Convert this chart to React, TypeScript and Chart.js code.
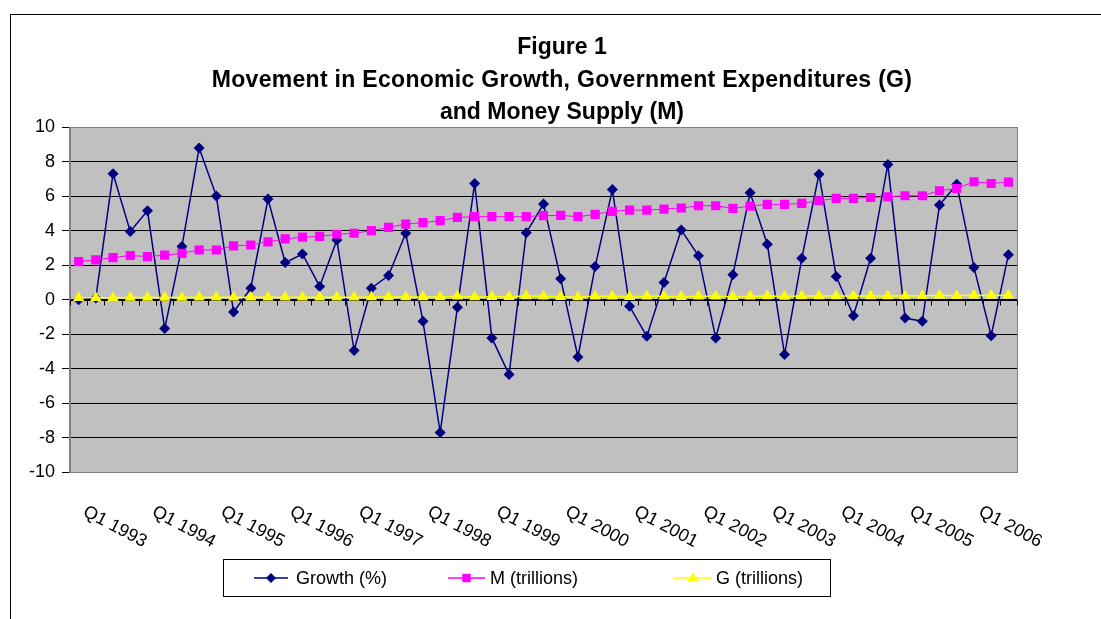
import React, { useEffect, useRef } from 'react';
import { Chart, registerables } from 'chart.js';

Chart.register(...registerables);

const FONT = '"Liberation Sans", Arial, Helvetica, sans-serif';

const years = [1993, 1994, 1995, 1996, 1997, 1998, 1999, 2000, 2001, 2002, 2003, 2004, 2005, 2006];
const quarters = ['Q1', 'Q2', 'Q3', 'Q4'];
const categories: string[] = years.flatMap((y) => quarters.map((q) => `${q} ${y}`)).slice(0, 55);
const tickLabels: string[] = categories.filter((c) => c.startsWith('Q1'));

const growth = [
  0.0, 0.1, 7.3, 3.95, 5.15, -1.67, 3.08, 8.79, 6.0, -0.71,
  0.67, 5.83, 2.15, 2.65, 0.77, 3.46, -2.94, 0.67, 1.4, 3.85,
  -1.25, -7.69, -0.44, 6.73, -2.21, -4.33, 3.88, 5.54, 1.21, -3.31,
  1.92, 6.38, -0.38, -2.12, 1.0, 4.04, 2.54, -2.21, 1.44, 6.19,
  3.21, -3.17, 2.4, 7.27, 1.35, -0.92, 2.4, 7.83, -1.06, -1.25,
  5.48, 6.69, 1.87, -2.08, 2.6,
];

const moneySupply = [
  2.21, 2.31, 2.44, 2.56, 2.5, 2.58, 2.69, 2.88, 2.88, 3.12,
  3.17, 3.35, 3.52, 3.62, 3.67, 3.79, 3.85, 4.0, 4.19, 4.38,
  4.46, 4.58, 4.77, 4.81, 4.81, 4.81, 4.81, 4.87, 4.88, 4.81,
  4.94, 5.12, 5.19, 5.19, 5.25, 5.31, 5.44, 5.44, 5.29, 5.42,
  5.52, 5.52, 5.58, 5.73, 5.87, 5.87, 5.92, 5.96, 6.02, 6.02,
  6.31, 6.44, 6.83, 6.73, 6.81,
];

const govExp = [
  0.12, 0.12, 0.12, 0.13, 0.13, 0.13, 0.13, 0.14, 0.14, 0.14,
  0.14, 0.14, 0.15, 0.15, 0.15, 0.15, 0.15, 0.16, 0.16, 0.16,
  0.16, 0.16, 0.2, 0.16, 0.17, 0.17, 0.22, 0.2, 0.17, 0.16,
  0.2, 0.2, 0.17, 0.2, 0.2, 0.17, 0.2, 0.2, 0.18, 0.2,
  0.21, 0.19, 0.21, 0.21, 0.21, 0.21, 0.21, 0.22, 0.22, 0.23,
  0.24, 0.23, 0.26, 0.25, 0.26,
];

const titleLines = [
  'Figure 1',
  'Movement in Economic Growth, Government Expenditures (G)',
  'and Money Supply (M)',
];
const seriesNames = ['Growth (%)', 'M (trillions)', 'G (trillions)'];
const seriesColors = ['#000080', '#FF00FF', '#FFFF00'];
const yMin = -10;
const yMax = 10;
const yStep = 2;

function drawMarker(ctx: CanvasRenderingContext2D, kind: string, x: number, y: number, r: number, color: string) {
  ctx.save();
  ctx.fillStyle = color;
  ctx.beginPath();
  if (kind === 'diamond') {
    ctx.moveTo(x - r, y);
    ctx.lineTo(x, y - r);
    ctx.lineTo(x + r, y);
    ctx.lineTo(x, y + r);
  } else if (kind === 'square') {
    const s = r * Math.SQRT1_2;
    ctx.rect(x - s, y - s, 2 * s, 2 * s);
  } else {
    ctx.moveTo(x, y - r);
    ctx.lineTo(x + r * 0.866, y + r / 2);
    ctx.lineTo(x - r * 0.866, y + r / 2);
  }
  ctx.closePath();
  ctx.fill();
  ctx.restore();
}

const decorPlugin = {
  id: 'decor',
  beforeDraw(chart: any) {
    const ctx: any = chart.ctx;
    const { left, top, right, bottom } = chart.chartArea;
    ctx.save();
    ctx.fillStyle = '#ffffff';
    ctx.fillRect(0, 0, chart.width, chart.height);
    ctx.strokeStyle = '#000000';
    ctx.lineWidth = 1;
    ctx.strokeRect(10.5, 14.5, chart.width + 40, chart.height + 40);
    ctx.fillStyle = '#C0C0C0';
    ctx.fillRect(left, top, right - left, bottom - top);
    // title
    ctx.fillStyle = '#000000';
    ctx.font = `bold 23px ${FONT}`;
    ctx.textAlign = 'center';
    ctx.textBaseline = 'alphabetic';
    const baselines = [54, 86.5, 119];
    const spacing = ['0px', '0.3px', '0px'];
    titleLines.forEach((t, i) => {
      ctx.letterSpacing = spacing[i];
      ctx.fillText(t, 562, baselines[i]);
    });
    ctx.letterSpacing = '0px';
    ctx.restore();
  },
  beforeDatasetsDraw(chart: any) {
    const ctx: CanvasRenderingContext2D = chart.ctx;
    const { left, top, right, bottom } = chart.chartArea;
    const xs = chart.scales.x;
    const ys = chart.scales.y;
    ctx.save();
    // plot border
    ctx.strokeStyle = '#808080';
    ctx.lineWidth = 1;
    ctx.strokeRect(Math.round(left) - 0.5, Math.round(top) + 0.5, Math.round(right - left) + 1, Math.round(bottom - top) - 1);
    // zero category axis
    const y0 = Math.round(ys.getPixelForValue(0)) + 0.5;
    ctx.strokeStyle = '#000000';
    ctx.beginPath();
    ctx.moveTo(left, y0);
    ctx.lineTo(right, y0);
    const half = (xs.getPixelForValue(1) - xs.getPixelForValue(0)) / 2;
    for (let i = 0; i <= categories.length; i++) {
      const x = Math.round(xs.getPixelForValue(i) - half) + 0.5;
      ctx.moveTo(x, y0);
      ctx.lineTo(x, y0 + 5);
    }
    ctx.stroke();
    // rotated category labels
    ctx.fillStyle = '#000000';
    ctx.font = `18px ${FONT}`;
    ctx.textAlign = 'left';
    ctx.textBaseline = 'alphabetic';
    categories.forEach((c, i) => {
      if (!tickLabels.includes(c)) return;
      const x = xs.getPixelForValue(i);
      ctx.save();
      ctx.translate(x + 3.5, 515);
      ctx.rotate((28 * Math.PI) / 180);
      ctx.fillText(c, 0, 0);
      ctx.restore();
    });
    ctx.restore();
  },
  afterDraw(chart: any) {
    const ctx: CanvasRenderingContext2D = chart.ctx;
    ctx.save();
    ctx.fillStyle = '#ffffff';
    ctx.fillRect(223.5, 559.5, 607, 37);
    ctx.strokeStyle = '#000000';
    ctx.lineWidth = 1;
    ctx.strokeRect(223.5, 559.5, 607, 37);
    const cy = 578;
    const items = [
      { x1: 254, x2: 288, tx: 296, kind: 'diamond', r: 5 },
      { x1: 448, x2: 485, tx: 490, kind: 'square', r: 6 },
      { x1: 674, x2: 712, tx: 716, kind: 'triangle', r: 6 },
    ];
    ctx.font = `18px ${FONT}`;
    ctx.textAlign = 'left';
    ctx.textBaseline = 'middle';
    items.forEach((it, i) => {
      ctx.strokeStyle = seriesColors[i];
      ctx.lineWidth = 1.5;
      ctx.beginPath();
      ctx.moveTo(it.x1, cy);
      ctx.lineTo(it.x2, cy);
      ctx.stroke();
      drawMarker(ctx, it.kind, (it.x1 + it.x2) / 2, cy, it.r, seriesColors[i]);
      ctx.fillStyle = '#000000';
      ctx.fillText(seriesNames[i], it.tx, cy + 1);
    });
    ctx.restore();
  },
};

export default function App() {
  const canvasRef = useRef<HTMLCanvasElement | null>(null);

  useEffect(() => {
    const canvas = canvasRef.current;
    if (!canvas) return;
    const chart = new Chart(canvas, {
      type: 'line',
      data: {
        labels: categories,
        datasets: [
          {
            label: seriesNames[0],
            data: growth,
            borderColor: seriesColors[0],
            backgroundColor: seriesColors[0],
            borderWidth: 1.5,
            pointStyle: 'rectRot',
            pointRadius: 5.5,
            pointBorderWidth: 0,
            order: 2,
            tension: 0,
          },
          {
            label: seriesNames[1],
            data: moneySupply,
            borderColor: seriesColors[1],
            backgroundColor: seriesColors[1],
            borderWidth: 1,
            pointStyle: 'rect',
            pointRadius: 6.5,
            pointBorderWidth: 0,
            order: 1,
            tension: 0,
          },
          {
            label: seriesNames[2],
            data: govExp,
            borderColor: seriesColors[2],
            backgroundColor: seriesColors[2],
            borderWidth: 1.5,
            pointStyle: 'triangle',
            pointRadius: 6.5,
            pointBorderWidth: 0,
            order: 0,
            tension: 0,
          },
        ],
      },
      options: {
        responsive: false,
        animation: false,
        devicePixelRatio: 1,
        layout: { padding: { left: 10, right: 84, top: 127, bottom: 146.5 } },
        plugins: {
          legend: { display: false },
          title: { display: false },
          tooltip: { enabled: false },
        },
        scales: {
          x: {
            type: 'category',
            display: false,
            offset: true,
          },
          y: {
            min: yMin,
            max: yMax,
            afterFit: (scale: any) => {
              scale.width = 60;
            },
            ticks: {
              stepSize: yStep,
              color: '#000000',
              font: { family: FONT, size: 18 },
              padding: 7,
            },
            grid: {
              color: '#000000',
              lineWidth: 1,
              drawTicks: true,
              tickLength: 8,
              tickColor: '#000000',
            },
            border: { display: true, color: '#808080' },
          },
        },
      },
      plugins: [decorPlugin],
    });
    return () => chart.destroy();
  }, []);

  return (
    <div style={{ position: 'fixed', left: 0, top: 0, width: 1101, height: 619, background: '#fff' }}>
      <canvas ref={canvasRef} width={1101} height={619} style={{ display: 'block' }} />
    </div>
  );
}
